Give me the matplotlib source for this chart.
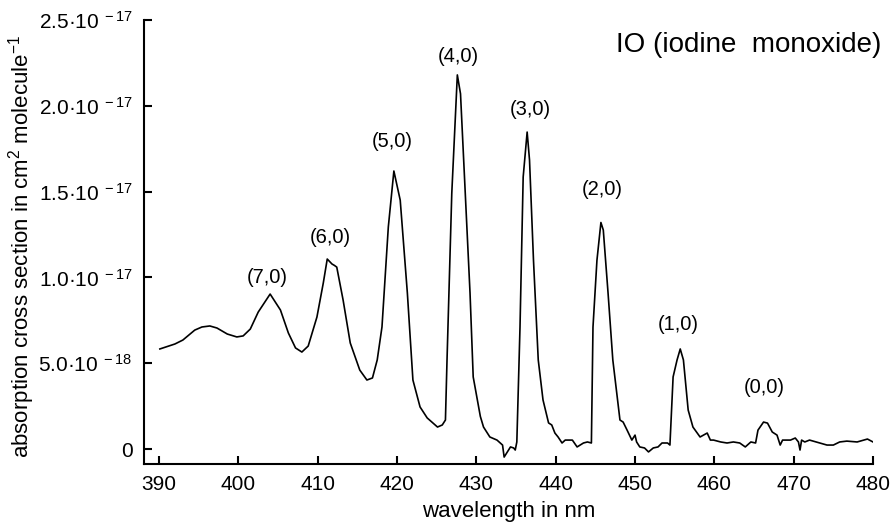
import numpy as np
import matplotlib
matplotlib.use("Agg")
import matplotlib.pyplot as plt
from matplotlib.ticker import FixedLocator, FixedFormatter

plt.rcParams['font.family'] = ['Liberation Sans', 'DejaVu Sans']
plt.rcParams['mathtext.fontset'] = 'custom'
plt.rcParams['mathtext.rm'] = 'Liberation Sans'
plt.rcParams['mathtext.it'] = 'Liberation Sans:italic'
plt.rcParams['mathtext.bf'] = 'Liberation Sans:bold'

# ---- data (wavelength in nm, cross section in units of 1e-18 cm^2 molecule^-1)
wavelength = [390.1, 392.0, 393.0, 394.5, 395.4, 396.4, 397.3, 398.6, 399.8, 400.6,
              401.5, 402.5, 404.0, 405.3, 406.3, 407.2, 408.0, 408.8, 409.9, 410.7,
              411.2, 411.8, 412.1, 412.4, 413.2, 414.1, 415.3, 416.2, 416.9, 417.5,
              418.1, 418.9, 419.6, 420.4, 421.3, 422.0, 422.9, 423.8, 425.1, 425.7,
              426.1, 426.3, 426.9, 427.6, 428.0, 428.6, 429.2, 429.6, 430.5, 430.9,
              431.7, 432.6, 433.3, 433.5, 433.9, 434.3, 434.7, 434.9, 435.1, 435.5,
              435.9, 436.4, 436.7, 437.2, 437.8, 438.4, 439.1, 439.5, 439.9, 440.3,
              440.8, 441.2, 442.1, 442.7, 443.5, 444.0, 444.5, 444.7, 445.2, 445.7,
              446.0, 446.6, 447.2, 448.1, 448.5, 449.0, 449.6, 450.0, 450.2, 450.6,
              451.2, 451.7, 452.3, 452.9, 453.4, 454.1, 454.4, 454.8, 455.3, 455.7,
              456.1, 456.7, 457.3, 458.2, 459.1, 459.5, 459.9, 460.8, 461.6, 462.4,
              463.2, 463.9, 464.6, 465.2, 465.5, 466.2, 466.7, 467.3, 467.9, 468.3,
              468.6, 469.6, 470.2, 470.6, 470.8, 471.0, 471.4, 472.0, 473.3, 474.2,
              475.0, 475.8, 476.7, 478.0, 479.3, 480.0]
cross_section = [5.83, 6.12, 6.35, 6.93, 7.11, 7.17, 7.05, 6.70, 6.53, 6.59,
                 6.99, 7.98, 9.03, 8.10, 6.76, 5.89, 5.65, 6.00, 7.69, 9.67,
                 11.07, 10.78, 10.70, 10.60, 8.68, 6.18, 4.60, 4.02, 4.14, 5.19,
                 7.11, 12.94, 16.20, 14.50, 9.09, 4.02, 2.45, 1.81, 1.28, 1.40,
                 1.69, 5.19, 14.90, 21.80, 20.70, 14.90, 9.09, 4.20, 1.90, 1.28,
                 0.70, 0.52, 0.23, -0.47, -0.17, 0.12, 0.06, -0.06, 0.41, 7.10,
                 15.85, 18.47, 16.84, 11.00, 5.19, 2.86, 1.52, 1.40, 0.93, 0.70,
                 0.35, 0.52, 0.52, 0.12, 0.35, 0.41, 0.35, 7.10, 11.00, 13.20,
                 12.76, 9.09, 5.19, 1.69, 1.57, 1.10, 0.52, 0.81, 0.41, 0.12,
                 0.06, -0.17, 0.06, 0.12, 0.35, 0.35, 0.23, 4.20, 5.19, 5.83,
                 5.19, 2.27, 1.28, 0.70, 0.93, 0.52, 0.52, 0.41, 0.35, 0.41,
                 0.35, 0.12, 0.41, 0.35, 1.10, 1.57, 1.51, 0.99, 0.81, 0.23,
                 0.52, 0.52, 0.64, 0.41, -0.06, 0.52, 0.41, 0.52, 0.35, 0.23,
                 0.23, 0.41, 0.46, 0.41, 0.58, 0.41]

band_labels = ["(7,0)", "(6,0)", "(5,0)", "(4,0)", "(3,0)", "(2,0)", "(1,0)", "(0,0)"]
band_label_x = [403.7, 411.6, 419.4, 427.7, 436.8, 445.9, 455.4, 466.3]
band_label_y = [10.02, 12.35, 17.9, 22.9, 19.81, 15.15, 7.28, 3.61]

x_ticks = [390, 400, 410, 420, 430, 440, 450, 460, 470, 480]
y_ticks = [0, 5e-18, 1.0e-17, 1.5e-17, 2.0e-17, 2.5e-17]
y_tick_labels = ["0",
                 r"5.0·10$^{\mathregular{\ -18}}$",
                 r"1.0·10$^{\mathregular{\ -17}}$",
                 r"1.5·10$^{\mathregular{\ -17}}$",
                 r"2.0·10$^{\mathregular{\ -17}}$",
                 r"2.5·10$^{\mathregular{\ -17}}$"]

scale = 1e-18

fig = plt.figure(figsize=(8.95, 5.25), dpi=100)
ax = fig.add_axes([144/895, 61/525, 729/895, 444/525])

ax.plot(wavelength, np.array(cross_section) * scale, color='black', lw=1.2)

for lab, lx, ly in zip(band_labels, band_label_x, band_label_y):
    ax.text(lx, ly * scale, lab, ha='center', va='center', fontsize=14.5)

ax.set_xlim(388.1, 480)
ax.set_ylim(-0.874e-18, 2.5e-17)
ax.xaxis.set_major_locator(FixedLocator(x_ticks))
ax.yaxis.set_major_locator(FixedLocator(y_ticks))
ax.yaxis.set_major_formatter(FixedFormatter(y_tick_labels))

for s in ['top', 'right']:
    ax.spines[s].set_visible(False)
for s in ['left', 'bottom']:
    ax.spines[s].set_linewidth(1.5)

ax.tick_params(direction='in', length=6, width=1.5, labelsize=15, pad=8)

ax.set_xlabel("wavelength in nm", fontsize=16, labelpad=5)
ax.set_ylabel(r"absorption cross section in cm$^{\mathregular{2}}$ molecule$^{\mathregular{-1}}$",
              fontsize=16)
ax.yaxis.set_label_coords(-0.147, 0.49)

ax.text(1.012, 0.944, "IO (iodine  monoxide)", transform=ax.transAxes,
        ha='right', va='center', fontsize=20)

fig.savefig("out.png", dpi=100)
